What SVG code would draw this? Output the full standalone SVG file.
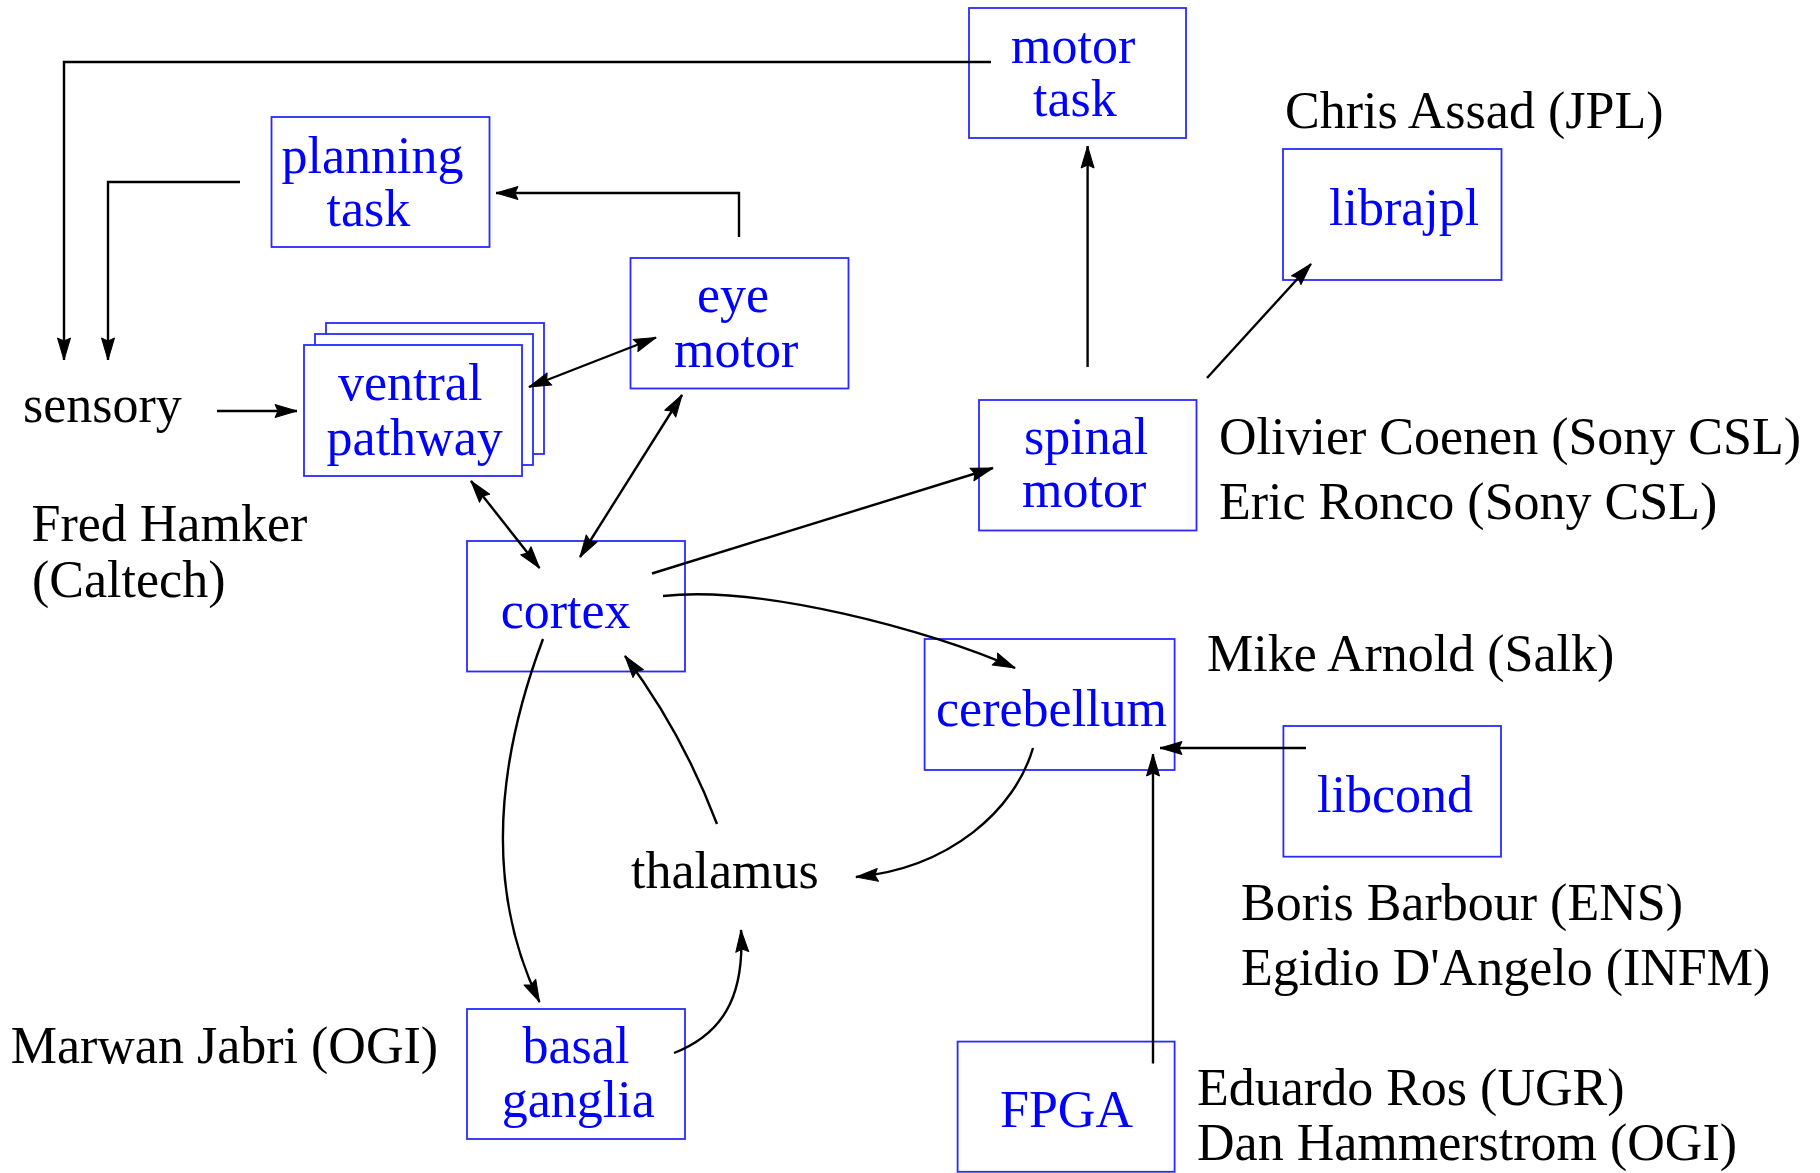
<svg xmlns="http://www.w3.org/2000/svg" width="1820" height="1173" viewBox="0 0 1820 1173">
<style>
text{font-family:"Liberation Serif","Times New Roman",serif;font-size:52px}
.b{fill:#0000ff}
.k{fill:#000}
.box{fill:none;stroke:#2a2aff;stroke-width:1.8}
.c{fill:none;stroke:#000;stroke-width:2.4}
</style>
<defs>
<marker id="ah" viewBox="-1 -1 24 15" refX="22" refY="6.5" markerWidth="24" markerHeight="15" markerUnits="userSpaceOnUse" orient="auto-start-reverse">
<path d="M0,0 L22,6.5 L0,13 L3,6.5 Z" fill="#000" stroke="#000" stroke-width="1" stroke-linejoin="round"/>
</marker>
</defs>
<rect width="1820" height="1173" fill="#fff"/>
<g id="motor-task">
<rect class="box" x="969" y="8" width="217" height="130"/>
<text class="b" x="1011" y="63">motor</text>
<text class="b" x="1033" y="116">task</text>
</g>
<g id="planning-task">
<rect class="box" x="271.5" y="117" width="218" height="130"/>
<text class="b" x="281.5" y="173">planning</text>
<text class="b" x="326.6" y="226">task</text>
</g>
<g id="ventral-pathway">
<rect class="box" x="326" y="323" width="218" height="131" style="fill:#fff"/>
<rect class="box" x="315" y="334" width="218" height="131" style="fill:#fff"/>
<rect class="box" x="304" y="345" width="218" height="131" style="fill:#fff"/>
<text class="b" x="338" y="400">ventral</text>
<text class="b" x="326.6" y="455">pathway</text>
</g>
<g id="eye-motor">
<rect class="box" x="630.5" y="258" width="218" height="130.5"/>
<text class="b" x="697" y="312">eye</text>
<text class="b" x="674" y="367">motor</text>
</g>
<g id="spinal-motor">
<rect class="box" x="979" y="400" width="217.5" height="130.5"/>
<text class="b" x="1024" y="453.6">spinal</text>
<text class="b" x="1022" y="507">motor</text>
</g>
<g id="librajpl">
<rect class="box" x="1283" y="149" width="218.5" height="131"/>
<text class="b" x="1329" y="225">librajpl</text>
</g>
<g id="cortex">
<rect class="box" x="467" y="541" width="218" height="130.5"/>
<text class="b" x="500.7" y="627.5">cortex</text>
</g>
<g id="cerebellum">
<rect class="box" x="924.6" y="639" width="250" height="131"/>
<text class="b" x="936" y="726">cerebellum</text>
</g>
<g id="libcond">
<rect class="box" x="1283.4" y="726" width="217.6" height="130.7"/>
<text class="b" x="1317" y="812">libcond</text>
</g>
<g id="basal-ganglia">
<rect class="box" x="467" y="1009" width="218" height="130"/>
<text class="b" x="522.5" y="1063">basal</text>
<text class="b" x="501.7" y="1117">ganglia</text>
</g>
<g id="fpga">
<rect class="box" x="957.6" y="1041.6" width="217" height="130.2"/>
<text class="b" x="1000" y="1127">FPGA</text>
</g>
<g id="sensory">
<text class="k" x="23" y="421.7">sensory</text>
</g>
<g id="thalamus">
<text class="k" x="631" y="888">thalamus</text>
</g>
<g id="labels">
<text class="k" x="1285" y="128">Chris Assad (JPL)</text>
<text class="k" x="1219" y="454">Olivier Coenen (Sony CSL)</text>
<text class="k" x="1219" y="519">Eric Ronco (Sony CSL)</text>
<text class="k" x="31.5" y="541">Fred Hamker</text>
<text class="k" x="32" y="597">(Caltech)</text>
<text class="k" x="1207" y="671">Mike Arnold (Salk)</text>
<text class="k" x="1241" y="920">Boris Barbour (ENS)</text>
<text class="k" x="1241" y="985">Egidio D'Angelo (INFM)</text>
<text class="k" x="10.7" y="1063">Marwan Jabri (OGI)</text>
<text class="k" x="1197" y="1105">Eduardo Ros (UGR)</text>
<text class="k" x="1197" y="1160">Dan Hammerstrom (OGI)</text>
</g>
<g id="connectors">
<path class="c" d="M991,62 H64 V360" marker-end="url(#ah)"/>
<path class="c" d="M240,182 H108 V360" marker-end="url(#ah)"/>
<path class="c" d="M739,237 V193 H496" marker-end="url(#ah)"/>
<path class="c" d="M217,411 H297" marker-end="url(#ah)"/>
<path class="c" d="M529,387 L656,337.5" marker-start="url(#ah)" marker-end="url(#ah)"/>
<path class="c" d="M471,481 L539.5,568" marker-start="url(#ah)" marker-end="url(#ah)"/>
<path class="c" d="M682,395 L580,557" marker-start="url(#ah)" marker-end="url(#ah)"/>
<path class="c" d="M652,573.5 L993,468" marker-end="url(#ah)"/>
<path class="c" d="M1087.6,367 V146" marker-end="url(#ah)"/>
<path class="c" d="M1207,378 L1311,264" marker-end="url(#ah)"/>
<path class="c" d="M663,596 C760,585 930,630 1015,668" marker-end="url(#ah)"/>
<path class="c" d="M543,639 C490,780 490,900 539.5,1002" marker-end="url(#ah)"/>
<path class="c" d="M717,824 Q682,732 625,656" marker-end="url(#ah)"/>
<path class="c" d="M674,1053 C720,1035 745,1000 741,930" marker-end="url(#ah)"/>
<path class="c" d="M1033,748 C1015,810 950,868 856,877" marker-end="url(#ah)"/>
<path class="c" d="M1306,748 H1160" marker-end="url(#ah)"/>
<path class="c" d="M1153,1063.5 V754" marker-end="url(#ah)"/>
</g>
</svg>
